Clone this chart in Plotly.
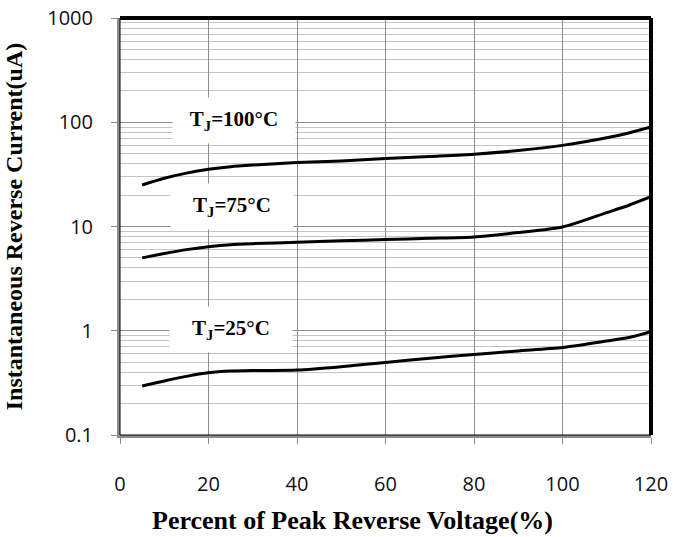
import plotly.graph_objects as go

# Percent of peak reverse voltage (%)
x_pct = [5, 10, 15, 20, 25, 30, 40, 50, 60, 70, 80, 90, 100, 110, 115, 120]

# Instantaneous reverse current (uA)
i_100c = [25, 29, 32.5, 35.4, 37.5, 38.8, 41, 42.6, 44.9, 47, 49.3, 53.5, 60, 71, 79, 90]
i_75c = [5.0, 5.5, 6.0, 6.4, 6.7, 6.85, 7.05, 7.28, 7.5, 7.7, 7.95, 8.75, 9.9, 13.6, 16.0, 19.3]
i_25c = [0.295, 0.33, 0.365, 0.395, 0.41, 0.415, 0.42, 0.452, 0.497, 0.545, 0.593, 0.64, 0.69, 0.796, 0.86, 0.98]

labels = ["T<sub>J</sub>=100°C", "T<sub>J</sub>=75°C", "T<sub>J</sub>=25°C"]
series = [i_100c, i_75c, i_25c]

x_ticks = [0, 20, 40, 60, 80, 100, 120]
y_ticks = [0.1, 1, 10, 100, 1000]
y_ticktext = ["0.1", "1", "10", "100", "1000"]

x_title = "Percent of Peak Reverse Voltage(%)"
y_title = "Instantaneous Reverse Current(uA)"

fig = go.Figure()
for name, ys in zip(labels, series):
    fig.add_trace(go.Scatter(
        x=x_pct, y=ys, mode="lines", name=name,
        line=dict(color="black", width=3, shape="spline", smoothing=0.7),
        showlegend=False,
    ))

serif = "Liberation Serif"
sans = "Open Sans"

# label boxes (paper coords)
label_pos = [(0.2147, 0.755), (0.210, 0.548), (0.209, 0.252)]
for text, (px, py) in zip(labels, label_pos):
    fig.add_annotation(
        x=px, y=py, xref="paper", yref="paper", text=text, showarrow=False,
        font=dict(family=serif, size=21, color="black", weight="bold"),
        bgcolor="white", width=122, height=45, borderpad=0,
        xanchor="center", yanchor="middle",
    )

# x-axis title (slightly left of plot centre, as in the reference)
fig.add_annotation(
    x=0.437, y=-0.206, xref="paper", yref="paper", text=f"<b>{x_title}</b>",
    showarrow=False, font=dict(family=serif, size=26, color="black"),
    xanchor="center", yanchor="middle",
)

fig.update_layout(
    width=673, height=537,
    margin=dict(l=120, r=22, t=18, b=102, autoexpand=False),
    paper_bgcolor="white", plot_bgcolor="white",
    xaxis=dict(
        range=[0, 120], tickvals=x_ticks, ticktext=[str(v) for v in x_ticks],
        showgrid=True, gridcolor="#8c8c8c", gridwidth=1,
        showline=True, linecolor="#8c8c8c", linewidth=3,
        ticks="outside", ticklen=6, tickcolor="#8c8c8c", tickwidth=1,
        ticklabelstandoff=23, automargin=False,
        tickfont=dict(family=sans, size=20, color="#111"),
        zeroline=False,
    ),
    yaxis=dict(
        type="log", range=[-1, 3], tickvals=y_ticks, ticktext=y_ticktext,
        showgrid=True, gridcolor="#8c8c8c", gridwidth=1,
        minor=dict(showgrid=True, gridcolor="#c4c4c4", gridwidth=1, dtick="D1", ticks=""),
        showline=True, linecolor="#8c8c8c", linewidth=3,
        ticks="outside", ticklen=6, tickcolor="#8c8c8c", tickwidth=1,
        ticklabelstandoff=14, automargin=False,
        tickfont=dict(family=sans, size=20, color="#111"),
        zeroline=False,
        title=dict(text=f"<b>{y_title}</b>",
                   font=dict(family=serif, size=24, color="black"), standoff=18),
    ),
)

# frame: thin inner black border, thick black top and right
fig.add_shape(type="rect", xref="x domain", yref="y domain", x0=0, x1=1, y0=0, y1=1,
              line=dict(color="black", width=1), layer="above")
fig.add_shape(type="line", xref="x domain", yref="y domain", x0=0, x1=1, y0=1, y1=1,
              line=dict(color="black", width=4), layer="above")
fig.add_shape(type="line", xref="x domain", yref="y domain", x0=1, x1=1, y0=0, y1=1,
              line=dict(color="black", width=4), layer="above")

fig.write_html("out.html", config={"displayModeBar": False},
               post_script="document.body.style.margin='0px';document.body.style.overflow='hidden';")
